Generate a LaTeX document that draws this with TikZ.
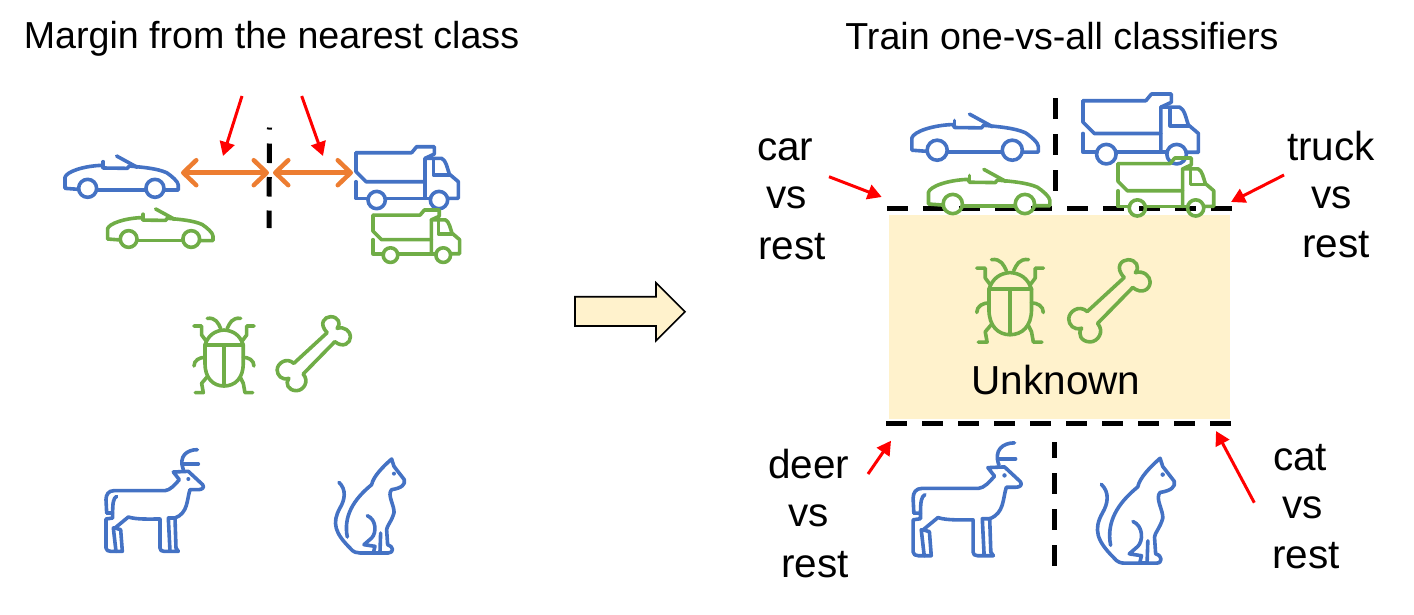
\documentclass[tikz,border=0pt]{standalone}
\usepackage{fontspec}
\setmainfont{Liberation Sans}
\usetikzlibrary{arrows.meta}
\definecolor{icblue}{HTML}{4472C4}
\definecolor{icgreen}{HTML}{70AD47}
\definecolor{icorange}{HTML}{ED7D31}
\definecolor{icfill}{HTML}{FFF2CC}
\tikzset{
  icon/.style={line width=3.6pt,line join=round,line cap=round},
  txt/.style={anchor=base west,inner sep=0pt,font=\fontsize{40.5}{40}\selectfont},
  ttl/.style={anchor=base,inner sep=0pt,font=\fontsize{37.6}{40}\selectfont},
  redarrow/.style={red,line width=3pt,-{Triangle[length=14pt,width=15pt]}},
  orangearrow/.style={icorange,line width=4.5pt,{Straight Barb[length=13pt,width=25pt,round]}-{Straight Barb[length=13pt,width=25pt,round]}},
  sepdash/.style={black,line width=5pt,dash pattern=on 20.7pt off 15.3pt},
  iconcar/.pic={
    \begin{scope}[shift={(-70,-195)}]
    \draw[icon] (115,298) -- (75,295) -- (75,262) .. controls (80,245) and (130,228) .. (185,226) -- (190,234) -- (262,235) -- (268,228) .. controls (310,232) and (350,235) .. (380,248) .. controls (395,258) and (415,275) .. (415,285) -- (415,300) -- (372,300);
    \draw[icon] (172,300) -- (316,300);
    \draw[icon] (143,295) circle[radius=27];
    \draw[icon] (345,295) circle[radius=27];
    \draw[icon] (230,198) -- (292,232);
    \draw[icon] (190,215) -- (190,232);
    \end{scope}
  },
  icontruck/.pic={
    \begin{scope}[shift={(-948,-170)}]
    \draw[icon] (948,188) -- (1115,188) -- (1130,170) -- (1183,170) -- (1183,192) -- (1155,205) -- (1155,325);
    \draw[icon] (948,188) -- (948,245) -- (978,275) -- (1155,275);
    \draw[icon] (948,275) -- (948,325) -- (985,325);
    \draw[icon] (1035,325) -- (1172,325);
    \draw[icon] (1155,205) -- (1205,205) .. controls (1218,210) and (1222,235) .. (1228,252) -- (1255,275) -- (1255,325) -- (1224,325);
    \draw[icon] (1180,210) -- (1180,255) -- (1228,255);
    \draw[icon] (1010,330) circle[radius=26];
    \draw[icon] (1197,330) circle[radius=26];
    \end{scope}
  },
  iconbug/.pic={
    \begin{scope}[shift={(-310,-48)}]
    \draw[icon] (345,135) -- (345,190) .. controls (345,235) and (370,258) .. (402,258) .. controls (435,258) and (460,235) .. (460,190) -- (460,135);
    \draw[icon] (345,135) .. controls (355,105) and (375,92) .. (402,90) .. controls (430,92) and (450,105) .. (460,135);
    \draw[icon] (345,135) -- (460,135);
    \draw[icon] (402,135) -- (402,258);
    \draw[icon] (352,55) .. controls (378,52) and (385,70) .. (392,85);
    \draw[icon] (452,55) .. controls (426,52) and (419,70) .. (412,85);
    \draw[icon] (312,78) -- (335,78) -- (335,105) -- (350,125);
    \draw[icon] (492,78) -- (470,78) -- (470,105) -- (455,125);
    \draw[icon] (312,198) .. controls (312,180) and (330,172) .. (345,172);
    \draw[icon] (492,198) .. controls (492,180) and (475,172) .. (460,172);
    \draw[icon] (316,278) -- (340,278) -- (335,250) -- (352,230);
    \draw[icon] (488,278) -- (465,278) -- (460,250) -- (450,230);
    \end{scope}
  },
  iconbone/.pic={
    \begin{scope}[shift={(-560,-48)}]
    \draw[icon] (612,190) -- (712,98) .. controls (685,70) and (705,50) .. (722,50) .. controls (745,50) and (755,70) .. (742,85) .. controls (765,78) and (782,95) .. (782,110) .. controls (782,130) and (760,145) .. (735,125) -- (640,222) .. controls (660,245) and (640,272) .. (620,272) .. controls (595,272) and (585,250) .. (597,235) .. controls (575,242) and (562,225) .. (562,210) .. controls (562,190) and (590,170) .. (612,190) -- cycle;
    \end{scope}
  },
  icondeer/.pic={
    \begin{scope}[shift={(-45,-445)}]
    \draw[icon] (50,640) -- (48,600) .. controls (48,585) and (55,573) .. (72,573) -- (225,573) .. controls (240,572) and (255,555) .. (268,540) -- (250,517) -- (295,515) -- (338,555) .. controls (345,565) and (335,570) .. (325,570) -- (300,570) .. controls (290,600) and (295,640) .. (255,655);
    \draw[icon] (50,640) -- (68,640) -- (68,655) -- (48,658) -- (48,745) .. controls (48,752) and (55,755) .. (62,755) -- (78,755) -- (70,685) -- (75,685) -- (115,652) .. controls (140,660) and (180,658) .. (210,658) -- (210,745) .. controls (210,752) and (215,755) .. (222,755) -- (240,755) -- (235,655) -- (255,655) -- (258,745) -- (265,755) -- (240,755);
    \draw[icon] (75,685) -- (92,690) -- (97,755) -- (78,755);
    \draw[icon] (80,590) .. controls (70,595) and (68,610) .. (68,640);
    \draw[icon] (280,510) .. controls (265,470) and (290,450) .. (322,450);
    \draw[icon] (282,493) -- (325,493);
    \fill (295,538) circle[radius=6];
    \end{scope}
  },
  iconcat/.pic={
    \begin{scope}[shift={(-730,-472)}]
    \draw[icon] (747,548) .. controls (770,570) and (765,600) .. (750,625) .. controls (725,670) and (735,700) .. (780,745) .. controls (790,758) and (800,760) .. (810,760) -- (850,760) -- (855,740) -- (822,735) -- (845,715) .. controls (860,700) and (860,660) .. (832,648);
    \draw[icon] (772,712) .. controls (760,650) and (790,600) .. (845,555) .. controls (850,530) and (880,500) .. (905,478) -- (912,500) -- (943,540) .. controls (947,555) and (935,565) .. (905,570) .. controls (890,585) and (915,620) .. (912,640) .. controls (905,665) and (890,680) .. (890,690) -- (893,735) .. controls (912,740) and (912,760) .. (895,760) -- (870,760) -- (872,700);
    \draw[icon] (850,760) -- (870,760);
    \fill (912,522) circle[radius=6];
    \end{scope}
  }
}
\begin{document}
\begin{tikzpicture}[x=1pt,y=-1pt]
\useasboundingbox (0,0) rectangle (1414,614);
% titles
\node[ttl] (titleL) at (271.5,48) {Margin from the nearest class};
\node[ttl] (titleR) at (1062,49) {Train one-vs-all classifiers};
% left side
\draw[black,line width=5pt,dash pattern=on 19.5pt off 14pt,dash phase=17.5pt] (269.5,127.5) -- (269,228);
\coordinate (mL) at (269,172.7);
\coordinate (mR) at (273,172.7);
\coordinate (lcar) at (181,172.7);
\coordinate (ltruck) at (353,172.7);
\draw[orangearrow] (lcar) -- (mL);
\draw[orangearrow] (mR) -- (ltruck);
\coordinate (ra1) at (242,96); \coordinate (ra1e) at (223,156);
\coordinate (ra2) at (301.7,96); \coordinate (ra2e) at (323,156);
\draw[redarrow] (ra1) -- (ra1e);
\draw[redarrow] (ra2) -- (ra2e);
\pic[shift={(63.3,155)},scale=0.3333,color=icblue] {iconcar};
\pic[shift={(106,208)},scale=0.31,color=icgreen] {iconcar};
\pic[shift={(356,146.7)},scale=0.3333,color=icblue] {icontruck};
\pic[shift={(373,210)},scale=0.282,color=icgreen] {icontruck};
\pic[shift={(193.3,316)},scale=0.3333,color=icgreen] {iconbug};
\pic[shift={(276.5,316)},scale=0.3333,color=icgreen] {iconbone};
\pic[shift={(105,448)},scale=0.3333,color=icblue] {icondeer};
\pic[shift={(333.3,457)},scale=0.3333,color=icblue] {iconcat};
% block arrow
\draw[fill=icfill,draw=black,line width=1.6pt,miter limit=4] (575,296.7) -- (656,296.7) -- (656,282.7) -- (685,311.7) -- (656,340.7) -- (656,326) -- (575,326) -- cycle;
% right side
\fill[icfill] (889,215) rectangle (1230,419);
\draw[sepdash] (887,208) -- (1233,208);
\draw[sepdash] (886,423.7) -- (1232,423.7);
\draw[sepdash] (1055.7,98) -- (1055.7,191);
\draw[sepdash,dash phase=4.7pt] (1054,442) -- (1054,566);
\pic[shift={(910,113)},scale=0.372,color=icblue] {iconcar};
\pic[shift={(926.7,168.3)},scale=0.357,color=icgreen] {iconcar};
\pic[shift={(1083,94)},scale=0.376,color=icblue] {icontruck};
\pic[shift={(1118,158)},scale=0.312,color=icgreen] {icontruck};
\pic[shift={(976,257)},scale=0.37,color=icgreen] {iconbug};
\pic[shift={(1068,259)},scale=0.37,color=icgreen] {iconbone};
\pic[shift={(912,441)},scale=0.37,color=icblue] {icondeer};
\pic[shift={(1095,456)},scale=0.372,color=icblue] {iconcat};
\node[inner sep=0pt,anchor=base,font=\fontsize{40.5}{40}\selectfont] (unknown) at (1056,394) {Unknown};
% red arrows
\coordinate (a1) at (829,176.7); \coordinate (a1e) at (881.7,197);
\coordinate (a2) at (1284,175); \coordinate (a2e) at (1231,202);
\coordinate (a3) at (868,474); \coordinate (a3e) at (891,440.7);
\coordinate (a4) at (1254.3,502.7); \coordinate (a4e) at (1216,431);
\draw[redarrow] (a1) -- (a1e);
\draw[redarrow] (a2) -- (a2e);
\draw[redarrow] (a3) -- (a3e);
\draw[redarrow] (a4) -- (a4e);
% labels
\node[txt] (l1) at (757,160.7) {car};
\node[txt] (l2) at (766,208) {vs};
\node[txt] (l3) at (758,259) {rest};
\node[txt] (l4) at (1287,160) {truck};
\node[txt] (l5) at (1311,208) {vs};
\node[txt] (l6) at (1302,257) {rest};
\node[txt] (l7) at (768,478) {deer};
\node[txt] (l8) at (788,526) {vs};
\node[txt] (l9) at (781,577) {rest};
\node[txt] (l10) at (1273,470) {cat};
\node[txt] (l11) at (1282,518) {vs};
\node[txt] (l12) at (1272,568) {rest};
\end{tikzpicture}
\end{document}
